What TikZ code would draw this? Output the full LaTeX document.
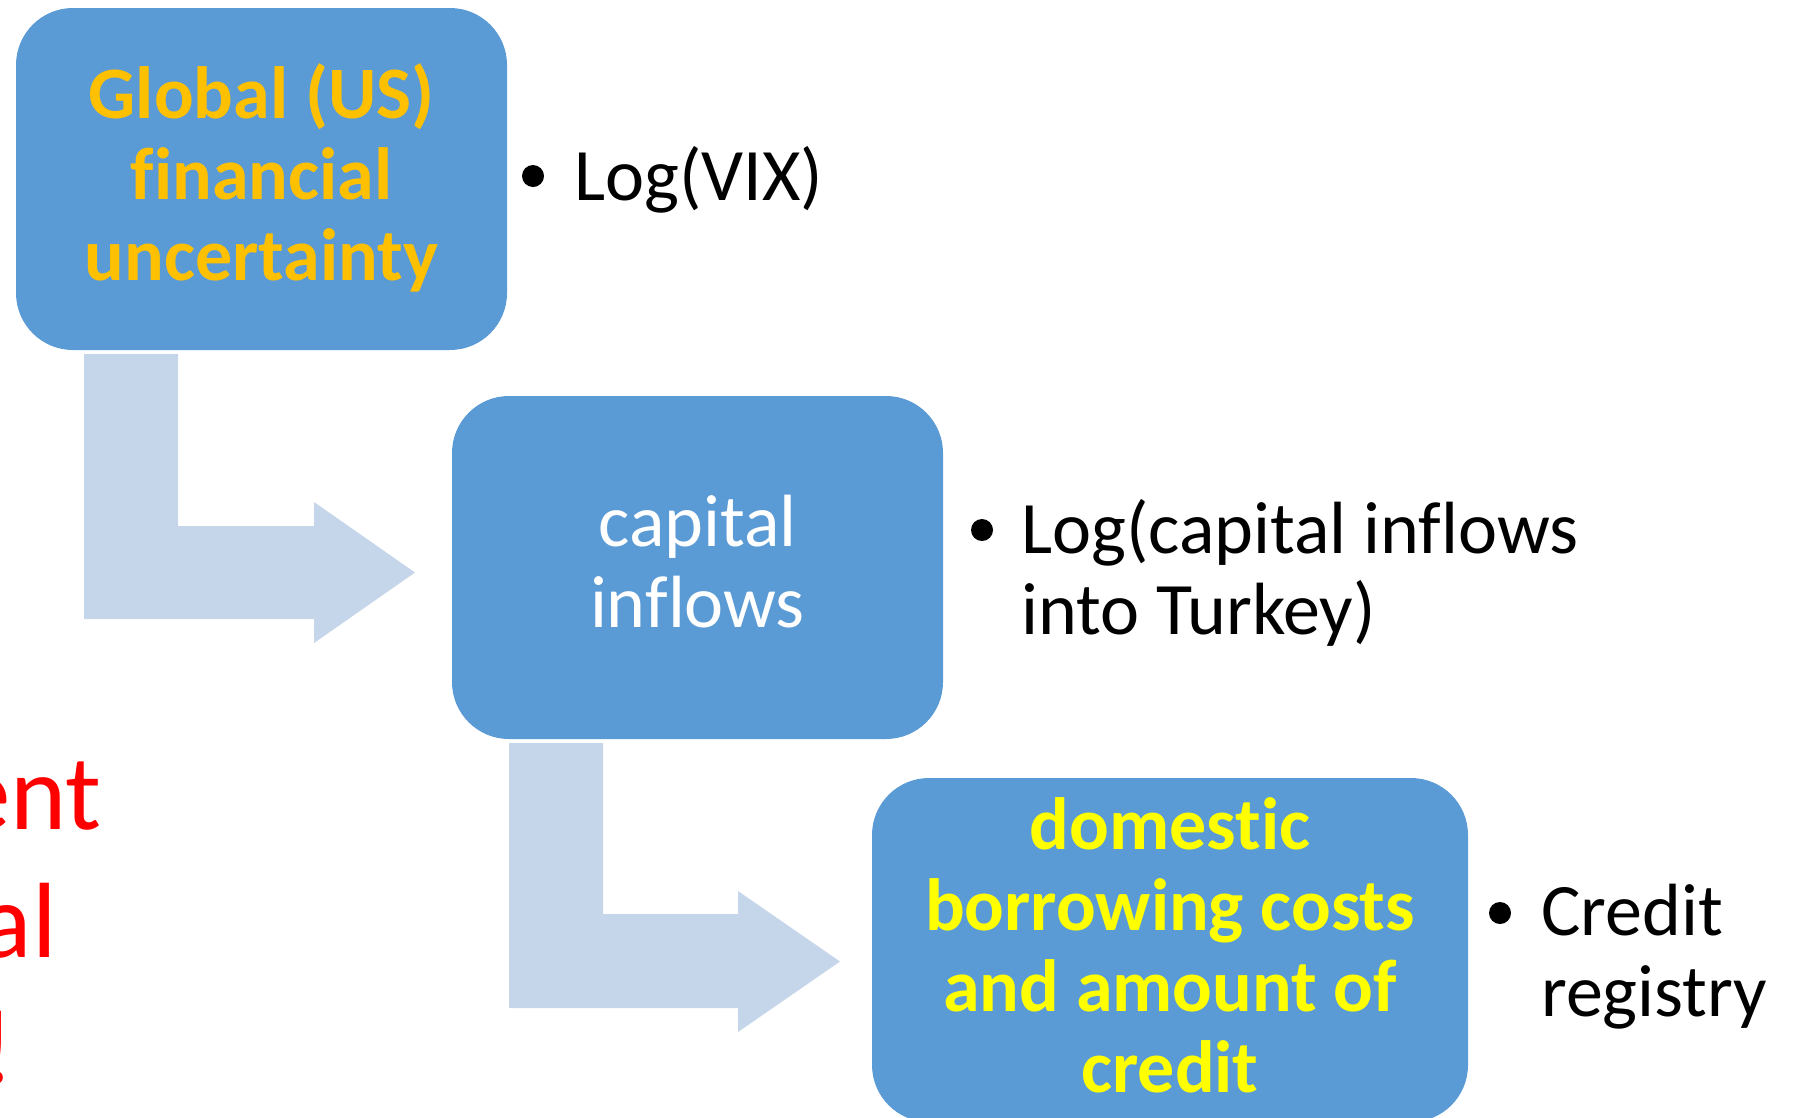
\documentclass[tikz,border=0pt]{standalone}
\usepackage{fontspec}
\setmainfont{Carlito}[Ligatures=NoCommon]
\definecolor{boxblue}{HTML}{5B9BD5}
\definecolor{arrowblue}{HTML}{C5D5EA}
\definecolor{txtorange}{HTML}{FFC000}
\definecolor{txtyellow}{HTML}{FFFF00}
\definecolor{txtred}{HTML}{FF0000}
\begin{document}
\begin{tikzpicture}[x=1pt,y=-1pt,
  stagebox/.style={rectangle,rounded corners=57pt,fill=boxblue,draw=none,inner sep=0pt},
  stagetext/.style={inner sep=0pt,anchor=base,text width=600pt,align=flush center,
    font=\fontsize{74}{81}\selectfont},
  dot/.style={circle,fill=black,draw=none,inner sep=0pt,minimum size=22pt},
  itemtext/.style={inner sep=0pt,anchor=base west,text width=600pt,align=flush left,
    font=\fontsize{74}{81}\selectfont},
  sidetext/.style={inner sep=0pt,anchor=base east,text=txtred,
    font=\fontsize{107}{127}\selectfont},
  bentarrow/.style={fill=arrowblue,draw=none}]
\useasboundingbox (0,0) rectangle (1795,1117);

% bent arrows between the stages
\fill[bentarrow] (84,354) -- (178,354) -- (178,526) -- (314,526) -- (314,502)
  -- (415,572.5) -- (314,643) -- (314,619) -- (84,619) -- cycle;
\fill[bentarrow] (509,743) -- (603,743) -- (603,914) -- (738,914) -- (738,891)
  -- (840,961.5) -- (738,1032) -- (738,1008) -- (509,1008) -- cycle;

% stage boxes
\node[stagebox,minimum width=491pt,minimum height=342pt] (global) at (261.5,179) {};
\node[stagebox,minimum width=491pt,minimum height=343pt] (inflows) at (697.5,567.5) {};
\node[stagebox,minimum width=596pt,minimum height=344pt] (credit) at (1170,950) {};

\node[stagetext,text=txtorange,font=\fontsize{74}{81}\selectfont\bfseries] (globaltxt)
  at (261.5,118) {Global (US)\\financial\\uncertainty};
\node[stagetext,text=white] (inflowstxt) at (697.5,546) {capital\\inflows};
\node[stagetext,text=txtyellow,font=\fontsize{74}{81}\selectfont\bfseries] (credittxt)
  at (1170,849) {domestic\\borrowing costs\\and amount of\\credit};

% measures used for each stage
\node[dot] (d1) at (533,176) {};
\node[itemtext] (m1) at (574,200) {Log(VIX)};
\node[dot] (d2) at (982,530) {};
\node[itemtext] (m2) at (1021,553) {Log(capital inflows\\into Turkey)};
\node[dot] (d3) at (1500,913) {};
\node[itemtext] (m3) at (1541,935) {Credit\\registry};

% remark at the left edge
\node[sidetext] (s1) at (102,829) {ent};
\node[sidetext] (s2) at (57,957) {al};
\node[sidetext] (s3) at (15,1083) {!};
\end{tikzpicture}
\end{document}
